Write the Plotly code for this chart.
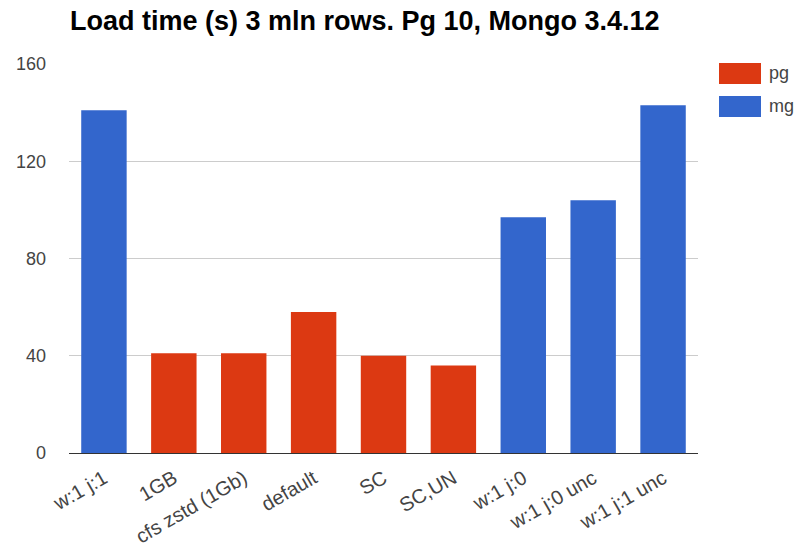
import plotly.graph_objects as go

categories = ["w:1 j:1", "1GB", "cfs zstd (1Gb)", "default", "SC", "SC,UN",
              "w:1 j:0", "w:1 j:0 unc", "w:1 j:1 unc"]
pg_values = [None, 41, 41, 58, 40, 36, None, None, None]
mg_values = [141, None, None, None, None, None, 97, 104, 143]
y_ticks = [0, 40, 80, 120, 160]

PG_COLOR = "#dc3912"
MG_COLOR = "#3366cc"
FONT = "Liberation Sans, Arial, sans-serif"

# plot area in figure pixels (page has an 8px body margin)
L, R, T, B = 61, 690, 56, 445
W, H = 807, 555

def px(X):
    return (X - L) / (R - L)

def py(Y):
    return (B - Y) / (B - T)

fig = go.Figure()
fig.add_trace(go.Bar(x=categories, y=pg_values, name="pg", marker_color=PG_COLOR,
                     marker_line_width=0))
fig.add_trace(go.Bar(x=categories, y=mg_values, name="mg", marker_color=MG_COLOR,
                     marker_line_width=0))

fig.update_layout(
    width=W, height=H,
    margin=dict(l=L, r=W - R, t=T, b=H - B, pad=0),
    barmode="overlay",
    bargap=0.35,
    plot_bgcolor="white", paper_bgcolor="white",
    showlegend=False,
    font=dict(family=FONT, size=18, color="#444"),
    title=dict(text="<b>Load time (s) 3 mln rows. Pg 10, Mongo 3.4.12</b>",
               x=62 / W, xanchor="left", y=1 - 13 / H, yanchor="middle",
               font=dict(family=FONT, size=27, color="#000")),
    xaxis=dict(type="category", tickangle=-30, showgrid=False, showline=False,
               ticks="", automargin=False, ticklabelstandoff=9,
               tickfont=dict(size=20, color="#444")),
    yaxis=dict(range=[0, 160], tickvals=y_ticks, showgrid=True, gridcolor="#cccccc",
               zeroline=True, zerolinecolor="#333", zerolinewidth=1,
               ticks="", automargin=False, ticklabelstandoff=22,
               tickfont=dict(size=18, color="#444")),
)

# legend drawn as boxes + labels to the right of the plot
for i, (name, col) in enumerate([("pg", PG_COLOR), ("mg", MG_COLOR)]):
    y0 = 55 + i * 33
    fig.add_shape(type="rect", xref="paper", yref="paper",
                  x0=px(711), x1=px(753), y0=py(y0 + 21), y1=py(y0),
                  fillcolor=col, line=dict(width=0))
    fig.add_annotation(xref="paper", yref="paper", x=px(759),
                       y=py(y0 + 10), text=name, showarrow=False,
                       xanchor="left", yanchor="middle",
                       font=dict(family=FONT, size=18, color="#444"))

fig.write_html("out.html")
